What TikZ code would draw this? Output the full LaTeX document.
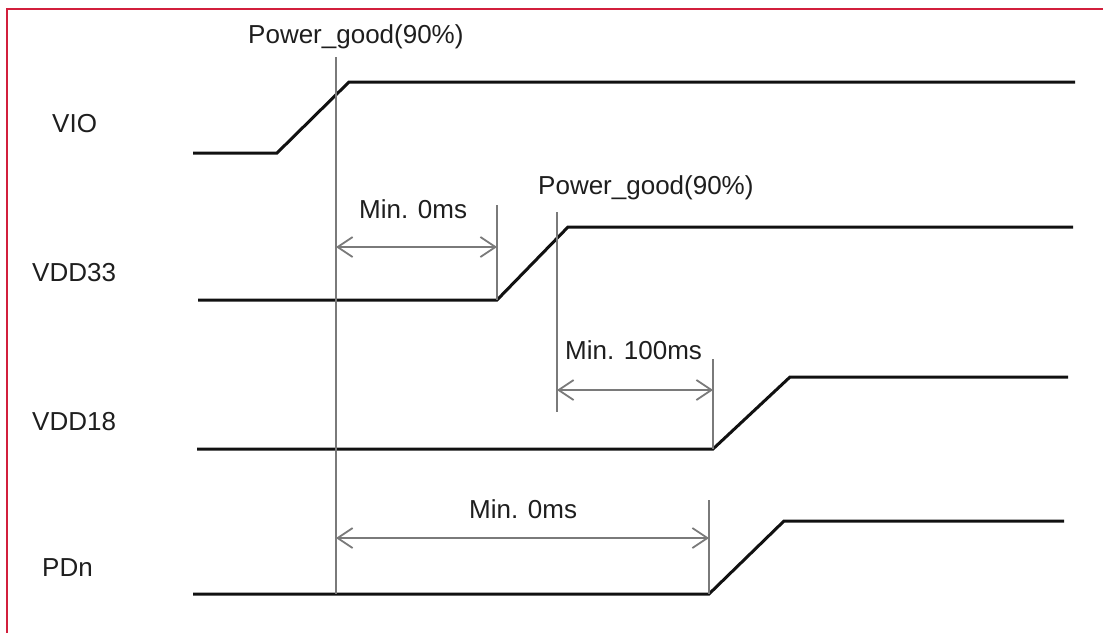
\documentclass[tikz,border=0pt]{standalone}
\usepackage{fontspec}
\setmainfont{Liberation Sans}
\usetikzlibrary{arrows.meta}
\definecolor{framecol}{HTML}{D21F3C}
\definecolor{guidecol}{HTML}{7A7A7A}
\definecolor{txtcol}{HTML}{1E1E1E}
\definecolor{sigcol}{HTML}{111111}
\begin{document}
\begin{tikzpicture}[x=1pt,y=-1pt,
  sig/.style={line width=3pt, sigcol, line join=miter},
  guide/.style={line width=1.8pt, guidecol},
  dimline/.style={line width=1.8pt, guidecol, {Straight Barb[length=15pt,width=20pt]}-{Straight Barb[length=15pt,width=20pt]}},
  lbl/.style={font=\fontsize{26}{30}\selectfont, text=txtcol, inner sep=0pt, anchor=base west}]
\useasboundingbox (0,0) rectangle (1103,632);
\draw[framecol, line width=2pt] (7,640) -- (7,9) -- (1110,9);

% signal labels
\node[lbl] (lvio) at (52,132) {VIO};
\node[lbl] (lvdd33) at (32,281) {VDD33};
\node[lbl] (lvdd18) at (32,430) {VDD18};
\node[lbl] (lpdn) at (42,576) {PDn};

% waveforms
\coordinate (vio0) at (193,153); \coordinate (vio1) at (277,153);
\coordinate (vio2) at (349,82); \coordinate (vio3) at (1075,82);
\draw[sig] (vio0) -- (vio1) -- (vio2) -- (vio3);

\coordinate (a0) at (198,300); \coordinate (a1) at (497,300);
\coordinate (a2) at (568,227); \coordinate (a3) at (1073,227);
\draw[sig] (a0) -- (a1) -- (a2) -- (a3);

\coordinate (b0) at (197,449); \coordinate (b1) at (713,449);
\coordinate (b2) at (790,377); \coordinate (b3) at (1068,377);
\draw[sig] (b0) -- (b1) -- (b2) -- (b3);

\coordinate (c0) at (193,594); \coordinate (c1) at (709,594);
\coordinate (c2) at (784,521); \coordinate (c3) at (1064,521);
\draw[sig] (c0) -- (c1) -- (c2) -- (c3);

% guide lines
\coordinate (g1t) at (336,57); \coordinate (g1b) at (336,594);
\coordinate (g2t) at (497,205);
\coordinate (g3t) at (557,212); \coordinate (g3b) at (557,412);
\coordinate (g4t) at (713,359);
\coordinate (g5t) at (709,500);
\draw[guide] (g1t) -- (g1b);
\draw[guide] (g2t) -- (a1);
\draw[guide] (g3t) -- (g3b);
\draw[guide] (g4t) -- (b1);
\draw[guide] (g5t) -- (c1);

% dimension arrows
\coordinate (d1a) at (336,247); \coordinate (d1b) at (497,247);
\coordinate (d2a) at (557,390); \coordinate (d2b) at (713,390);
\coordinate (d3a) at (336,538); \coordinate (d3b) at (709,538);
\draw[dimline] (d1a) -- (d1b);
\draw[dimline] (d2a) -- (d2b);
\draw[dimline] (d3a) -- (d3b);

% texts
\node[lbl] (pg1) at (248,43) {Power\_good(90\%)};
\node[lbl] (pg2) at (538,194) {Power\_good(90\%)};
\node[lbl] (m1) at (359,218) {Min. 0ms};
\node[lbl] (m2) at (565,359) {Min. 100ms};
\node[lbl] (m3) at (469,518) {Min. 0ms};
\end{tikzpicture}
\end{document}
